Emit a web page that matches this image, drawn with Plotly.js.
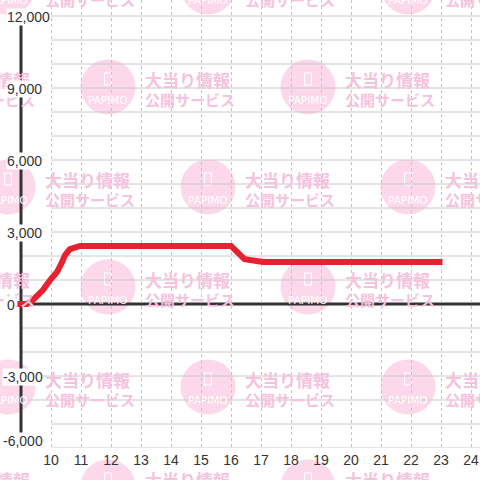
<!DOCTYPE html>
<html><head><meta charset="utf-8">
<script src="https://cdn.plot.ly/plotly-3.0.1.min.js"></script>
<style>html,body{margin:0;padding:0;background:#fff}#chart{width:480px;height:480px}</style>
</head><body><div id="chart"></div>
<script>
// ---- data ----
const hours   = [8.88, 9.2, 9.4, 9.73, 9.97, 10.2, 10.37, 10.47, 10.63, 10.97, 16.0, 16.45, 17.07, 23.05];
const balance = [0,    0,   170, 580,  1000, 1330, 1750,  2040,  2290,  2420,  2420, 1870,  1750,  1750];
const xTickVals = [10, 11, 12, 13, 14, 15, 16, 17, 18, 19, 20, 21, 22, 23, 24];
const xTickText = ["10","11","12","13","14","15","16","17","18","19","20","21","22","23","24"];
const yTickVals = [-6000, -3000, 0, 3000, 6000, 9000, 12000];
const yTickText = ["-6,000", "-3,000", "0", "3,000", "6,000", "9,000", "12,000"];
const yGridVals = [-6000,-5000,-4000,-3000,-2000,-1000,1000,2000,3000,4000,5000,6000,7000,8000,9000,10000,11000,12000];
const wmLine1 = "大当り情報";
const wmLine2 = "公開サービス";
const wmLogo  = "PAPIMO";

// ---- layout geometry ----
const W = 480, H = 480, M = {l: 0, r: 0, t: 0, b: 32};
const X_RANGE = [8.3, 24.3];
const Y_RANGE = [-6000, 12667];
const AXIS_X = 9;
const px2x = px => px / W;
const py2y = py => (H - M.b - py) / (H - M.t - M.b);

const shapes = [];
const annotations = [];

// watermark tiles
const wmPink = '#fcd8ea', wmText = '#f6c2de';
const R = 27.5;
for (let k = 0; k < 6; k++) {
  const cy = -13 + 100 * k;
  const xs = (k % 2 === 0) ? [8, 208, 408] : [-92, 108, 308];
  xs.forEach(cx => {
    shapes.push({type: 'circle', xref: 'paper', yref: 'paper', layer: 'below',
      x0: px2x(cx - R), x1: px2x(cx + R), y0: py2y(cy + R), y1: py2y(cy - R),
      fillcolor: wmPink, line: {width: 0}});
    shapes.push({type: 'rect', xref: 'paper', yref: 'paper', layer: 'below',
      x0: px2x(cx - 3.5), x1: px2x(cx + 3.5), y0: py2y(cy - 2), y1: py2y(cy - 14),
      line: {color: '#ffffff', width: 1.2}});
    annotations.push({xref: 'paper', yref: 'paper', x: px2x(cx), y: py2y(cy + 13),
      xanchor: 'center', yanchor: 'middle', showarrow: false, text: wmLogo,
      font: {family: 'DejaVu Sans', size: 10.5, color: '#ffffff'}});
    annotations.push({xref: 'paper', yref: 'paper', x: px2x(cx + 35), y: py2y(cy - 7.5),
      xanchor: 'left', yanchor: 'middle', showarrow: false, text: wmLine1,
      font: {family: 'Noto Sans CJK JP', size: 17, color: wmText, weight: 'bold'}});
    annotations.push({xref: 'paper', yref: 'paper', x: px2x(cx + 35), y: py2y(cy + 12.5),
      xanchor: 'left', yanchor: 'middle', showarrow: false, text: wmLine2,
      font: {family: 'Noto Sans CJK JP', size: 15, color: wmText, weight: 'bold'}});
  });
}

// horizontal gridlines (upper and lowest lines start at the 10:00 gridline)
yGridVals.forEach(v => {
  const start = (v >= 3000 || v <= -5000) ? xTickVals[0] : AXIS_X;
  shapes.push({type: 'line', xref: 'x', yref: 'y', layer: 'below',
    x0: start, x1: X_RANGE[1], y0: v, y1: v, line: {color: '#c8c8c8', width: 1}});
});
// zero line and y axis line
shapes.push({type: 'line', xref: 'x', yref: 'y', layer: 'below',
  x0: AXIS_X, x1: X_RANGE[1], y0: 0, y1: 0, line: {color: '#333333', width: 3}});
shapes.push({type: 'line', xref: 'x', yref: 'y', layer: 'below',
  x0: AXIS_X, x1: AXIS_X, y0: yTickVals[0], y1: yTickVals[yTickVals.length - 1],
  line: {color: '#333333', width: 3}});

// y tick labels with background boxes
yTickVals.forEach((v, i) => {
  const neg = v < 0;
  annotations.push({xref: 'paper', yref: 'y', x: neg ? px2x(44) : px2x(6), y: v,
    yshift: (i === 0) ? 7 : -1,
    xanchor: neg ? 'right' : 'left', yanchor: 'middle', showarrow: false,
    text: yTickText[i], bgcolor: '#ffffff', borderpad: 0,
    font: {family: 'Liberation Sans, Arial, sans-serif', size: 14, color: '#333333'}});
});

const trace = {
  x: hours, y: balance, type: 'scatter', mode: 'lines',
  line: {color: '#e8202f', width: 6}, hoverinfo: 'skip', cliponaxis: false
};

const layout = {
  width: W, height: H, margin: M,
  paper_bgcolor: '#ffffff', plot_bgcolor: 'rgba(0,0,0,0)',
  showlegend: false,
  xaxis: {range: X_RANGE, tickvals: xTickVals, ticktext: xTickText,
    showgrid: true, gridcolor: '#c4c4c4', gridwidth: 1, griddash: '3px,3px',
    zeroline: false, showline: false, ticks: '', fixedrange: true, ticklabelstandoff: 2,
    tickfont: {family: 'Liberation Sans, Arial, sans-serif', size: 14, color: '#333333'}},
  yaxis: {range: Y_RANGE, showgrid: false, zeroline: false, showline: false,
    showticklabels: false, ticks: '', fixedrange: true},
  shapes: shapes, annotations: annotations
};

Plotly.newPlot('chart', [trace], layout, {staticPlot: true, displayModeBar: false});
</script>
</body></html>
